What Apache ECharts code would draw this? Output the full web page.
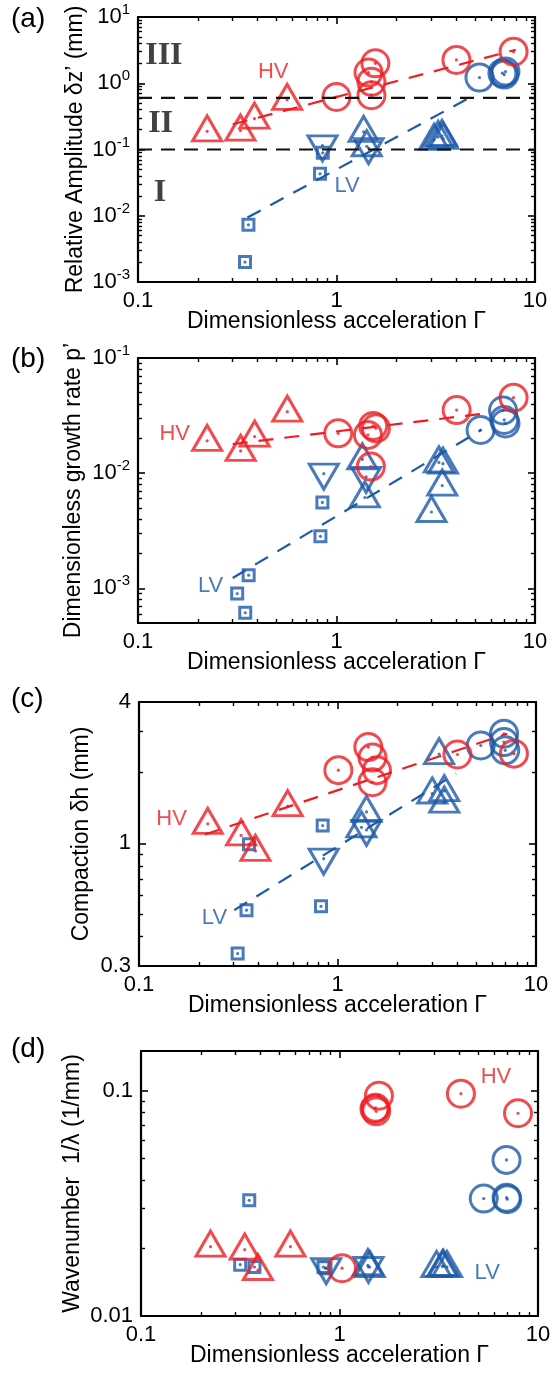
<!DOCTYPE html>
<html><head><meta charset="utf-8">
<script src="https://cdn.jsdelivr.net/npm/echarts@6/dist/echarts.min.js"></script>
<style>html,body{margin:0;padding:0;background:#fff}#c{width:552px;height:1380px}</style>
</head><body><div id="c"></div><script>
// ---------- shared axis data ----------
const xMin = 0.1, xMax = 10;
const xMajor = [0.1, 1, 10];
const xTickLabels = ['0.1', '1', '10'];
const xName = 'Dimensionless acceleration \u0393';

// ---------- panel (a) ----------
const aYMajor = [1e-3, 1e-2, 1e-1, 1, 10];
const aYExp = ['-3', '-2', '-1', '0', '1'];
const aHVtri = [[0.223, 0.188], [0.328, 0.193], [0.386, 0.292], [0.564, 0.562]];
const aHVcirc = [[1.0, 0.62], [1.57, 2.0], [1.45, 1.45], [1.5, 1.05], [1.5, 0.66], [4.02, 2.25], [7.8, 3.0]];
const aLVsq = [[0.36, 0.0073], [0.346, 0.002], [0.826, 0.043], [0.853, 0.089]];
const aLVdown = [[0.85, 0.115], [1.45, 0.105]];
const aLVup = [[1.37, 0.185], [1.42, 0.112], [3.1, 0.14], [3.25, 0.155], [3.4, 0.16], [3.45, 0.145]];
const aLVcirc = [[5.25, 1.22], [6.85, 1.42], [7.0, 1.35], [7.1, 1.5]];
const aHVfit = [[0.30, 0.24], [8.0, 3.2]];
const aLVfit = [[0.356, 0.0094], [4.8, 0.63]];
const aRegimeLines = [0.6, 0.1];
const aRegimeText = [['III', 0.135, 2.57], ['II', 0.13, 0.245], ['I', 0.129, 0.022]];
const aHVtext = [0.48, 1.5], aLVtext = [1.13, 0.028];

// ---------- panel (b) ----------
const bYMajor = [1e-3, 1e-2, 1e-1];
const bYExp = ['-3', '-2', '-1'];
const bHVtri = [[0.223, 0.0191], [0.329, 0.0156], [0.387, 0.0208], [0.565, 0.0342]];
const bHVcirc = [[1.02, 0.0222], [1.53, 0.0257], [1.58, 0.0245], [1.44, 0.0215], [1.49, 0.0114], [4.03, 0.0353], [7.8, 0.0452]];
const bLVsq = [[0.361, 0.0013], [0.316, 0.0009], [0.347, 0.000614], [0.849, 0.00557], [0.83, 0.00283]];
const bLVdown = [[0.863, 0.0099], [1.41, 0.0093]];
const bLVup = [[1.35, 0.0132], [1.39, 0.00615], [3.28, 0.0124], [3.44, 0.0121], [3.41, 0.0078], [3.01, 0.0046]];
const bLVcirc = [[5.32, 0.0237], [6.9, 0.035], [7.0, 0.029], [7.1, 0.027]];
const bHVfit = [[0.30, 0.0179], [6.0, 0.0335]];
const bLVfit = [[0.30, 0.00123], [5.36, 0.0237]];
const bHVtext = [0.153, 0.0219], bLVtext = [0.232, 0.00105];

// ---------- panel (c) ----------
const cYMajor = [0.3, 1, 4];
const cYLabels = ['0.3', '1', '4'];
const cHVtri = [[0.222, 1.21], [0.327, 1.08], [0.386, 0.928], [0.561, 1.44]];
const cHVcirc = [[1.01, 2.05], [1.43, 2.57], [1.5, 2.32], [1.58, 2.05], [1.5, 1.82], [4.02, 2.39], [7.74, 2.41]];
const cLVsq = [[0.348, 0.519], [0.314, 0.339], [0.842, 1.19], [0.826, 0.539], [0.358, 0.99]];
const cLVdown = [[0.852, 0.86], [1.4, 1.14]];
const cLVup = [[1.4, 1.36], [1.32, 1.17], [3.25, 2.4], [3.0, 1.63], [3.45, 1.67], [3.45, 1.49]];
const cLVcirc = [[5.27, 2.61], [6.9, 2.93], [6.9, 2.7], [7.0, 2.49]];
const cHVfit = [[0.215, 1.09], [7.16, 2.93]];
const cLVfit = [[0.302, 0.519], [3.96, 1.98]];
const cHVtext = [0.146, 1.27], cLVtext = [0.24, 0.483];

// ---------- panel (d) ----------
const dYMajor = [0.01, 0.1];
const dYLabels = ['0.01', '0.1'];
const dHVtri = [[0.224, 0.0203], [0.333, 0.0197], [0.388, 0.016], [0.566, 0.0203]];
const dHVcirc = [[1.03, 0.0163], [1.5, 0.083], [1.53, 0.081], [1.52, 0.084], [1.58, 0.095], [4.09, 0.097], [7.93, 0.0794]];
const dLVsq = [[0.351, 0.0326], [0.316, 0.0169], [0.373, 0.0165], [0.85, 0.0163], [0.83, 0.0165]];
const dLVdown = [[0.857, 0.0163], [1.4, 0.0165]];
const dLVup = [[1.39, 0.0168], [1.42, 0.0165], [3.08, 0.0165], [3.34, 0.0167], [3.48, 0.0165], [3.3, 0.0166]];
const dLVcirc = [[5.33, 0.0332], [6.94, 0.0493], [6.95, 0.0335], [7.0, 0.033]];
const dHVtext = [6.14, 0.115], dLVtext = [5.55, 0.0155];

// ---------- styling ----------
const RED = '#ee1d23', BLUE = '#1d59a8', INK = '#000';
const FONT = "'Liberation Sans', Arial, Helvetica, sans-serif";
const SERIF = "'Liberation Serif', 'Times New Roman', serif";
const TICK_FS = 22, NAME_FS = 23;

function minorTicks(lo, hi) {
  const out = [];
  for (let p = Math.floor(Math.log10(lo)) - 1; p <= Math.ceil(Math.log10(hi)); p++) {
    for (let k = 2; k <= 9; k++) {
      const v = k * Math.pow(10, p);
      if (v > lo * 1.0001 && v < hi * 0.9999) out.push(v);
    }
  }
  return out;
}
function idxOf(arr, v) {
  let best = 0, bd = Infinity;
  arr.forEach((a, i) => { const d = Math.abs(Math.log10(a) - Math.log10(v)); if (d < bd) { bd = d; best = i; } });
  return best;
}

const panels = [
  { grid: { left: 138, top: 17, width: 397, height: 265 }, yMin: 1e-3, yMax: 10, yMajor: aYMajor, yLab: aYExp, sup: true,
    yName: 'Relative Amplitude \u03b4z\u2019 (mm)', yNameGap: 51,
    hvTri: aHVtri, hvCirc: aHVcirc, lvSq: aLVsq, lvDown: aLVdown, lvUp: aLVup, lvCirc: aLVcirc,
    hvFit: aHVfit, lvFit: aLVfit, hvText: aHVtext, lvText: aLVtext, tag: '(a)', tagTop: 5 },
  { grid: { left: 138, top: 358, width: 397, height: 265 }, yMin: 5e-4, yMax: 0.1, yMajor: bYMajor, yLab: bYExp, sup: true,
    yName: 'Dimensionless growth rate p\u2019', yNameGap: 53,
    hvTri: bHVtri, hvCirc: bHVcirc, lvSq: bLVsq, lvDown: bLVdown, lvUp: bLVup, lvCirc: bLVcirc,
    hvFit: bHVfit, lvFit: bLVfit, hvText: bHVtext, lvText: bLVtext, tag: '(b)', tagTop: 345 },
  { grid: { left: 139, top: 702, width: 397, height: 264 }, yMin: 0.3, yMax: 4, yMajor: cYMajor, yLab: cYLabels, sup: false,
    yName: 'Compaction \u03b4h (mm)', yNameGap: 46,
    hvTri: cHVtri, hvCirc: cHVcirc, lvSq: cLVsq, lvDown: cLVdown, lvUp: cLVup, lvCirc: cLVcirc,
    hvFit: cHVfit, lvFit: cLVfit, hvText: cHVtext, lvText: cLVtext, tag: '(c)', tagTop: 685 },
  { grid: { left: 141, top: 1051, width: 397, height: 265 }, yMin: 0.01, yMax: 0.15, yMajor: dYMajor, yLab: dYLabels, sup: false,
    yName: 'Wavenumber  1/\u03bb (1/mm)', yNameGap: 57,
    hvTri: dHVtri, hvCirc: dHVcirc, lvSq: dLVsq, lvDown: dLVdown, lvUp: dLVup, lvCirc: dLVcirc,
    hvFit: null, lvFit: null, hvText: dHVtext, lvText: dLVtext, tag: '(d)', tagTop: 1035 }
];

const grids = [], xAxes = [], yAxes = [], series = [], graphics = [];
const lineStyleBox = { color: INK, width: 2.2 };

panels.forEach((p, gi) => {
  grids.push(Object.assign({ outerBoundsMode: 'none', containLabel: false }, p.grid));
  const xMinor = minorTicks(xMin, xMax), yMinor = minorTicks(p.yMin, p.yMax);
  const xCommon = { type: 'log', logBase: 10, min: xMin, max: xMax, gridIndex: gi, splitLine: { show: false }, silent: true };
  const yCommon = { type: 'log', logBase: 10, min: p.yMin, max: p.yMax, gridIndex: gi, splitLine: { show: false }, silent: true };
  const tickMaj = { show: true, inside: true, length: 7, lineStyle: { color: INK, width: 1.6 } };
  const tickMin = { show: true, inside: true, length: 4, lineStyle: { color: INK, width: 1.4 } };
  xAxes.push(Object.assign({}, xCommon, {
    position: 'bottom', axisLine: { show: true, onZero: false, lineStyle: lineStyleBox },
    axisTick: Object.assign({ customValues: xMajor }, tickMaj),
    axisLabel: { show: true, customValues: xMajor, margin: 8, fontSize: TICK_FS, fontFamily: FONT, color: INK,
      formatter: v => xTickLabels[idxOf(xMajor, v)] },
    name: xName, nameLocation: 'middle', nameGap: 28, nameMoveOverlap: false,
    nameTextStyle: { fontSize: NAME_FS, fontFamily: FONT, color: INK }
  }));
  xAxes.push(Object.assign({}, xCommon, { position: 'bottom', axisLine: { show: false },
    axisTick: Object.assign({ customValues: xMinor }, tickMin), axisLabel: { show: false } }));
  xAxes.push(Object.assign({}, xCommon, { position: 'top', axisLine: { show: true, onZero: false, lineStyle: lineStyleBox },
    axisTick: Object.assign({ customValues: xMajor }, tickMaj), axisLabel: { show: false } }));
  xAxes.push(Object.assign({}, xCommon, { position: 'top', axisLine: { show: false },
    axisTick: Object.assign({ customValues: xMinor }, tickMin), axisLabel: { show: false } }));

  const yFmt = p.sup
    ? (v => '{b|10}{s|' + p.yLab[idxOf(p.yMajor, v)] + '}')
    : (v => p.yLab[idxOf(p.yMajor, v)]);
  yAxes.push(Object.assign({}, yCommon, {
    position: 'left', axisLine: { show: true, onZero: false, lineStyle: lineStyleBox },
    axisTick: Object.assign({ customValues: p.yMajor }, tickMaj),
    axisLabel: { show: true, customValues: p.yMajor, margin: 8, fontSize: TICK_FS, fontFamily: FONT, color: INK,
      formatter: yFmt,
      rich: { b: { fontSize: TICK_FS, fontFamily: FONT, color: INK },
              s: { fontSize: 15, fontFamily: FONT, color: INK, padding: [0, 0, 14, 0] } } },
    name: p.yName, nameLocation: 'middle', nameGap: p.yNameGap, nameMoveOverlap: false,
    nameTextStyle: { fontSize: NAME_FS, fontFamily: FONT, color: INK }
  }));
  yAxes.push(Object.assign({}, yCommon, { position: 'left', axisLine: { show: false },
    axisTick: Object.assign({ customValues: yMinor }, tickMin), axisLabel: { show: false } }));
  yAxes.push(Object.assign({}, yCommon, { position: 'right', axisLine: { show: true, onZero: false, lineStyle: lineStyleBox },
    axisTick: Object.assign({ customValues: p.yMajor }, tickMaj), axisLabel: { show: false } }));
  yAxes.push(Object.assign({}, yCommon, { position: 'right', axisLine: { show: false },
    axisTick: Object.assign({ customValues: yMinor }, tickMin), axisLabel: { show: false } }));

  const xi = gi * 4, yi = gi * 4;
  const base = { type: 'scatter', xAxisIndex: xi, yAxisIndex: yi, silent: true, animation: false };
  const open = c => ({ color: 'rgba(255,255,255,0)', borderColor: c, borderWidth: 3 });
  function markers(data, kind, c, z) {
    let s;
    if (kind === 'circle') s = { symbol: 'circle', symbolSize: 27, itemStyle: open(c) };
    else if (kind === 'up') s = { symbol: 'triangle', symbolSize: [29, 25], symbolOffset: [0, -3], itemStyle: open(c) };
    else if (kind === 'down') s = { symbol: 'triangle', symbolRotate: 180, symbolSize: [29, 25], symbolOffset: [0, 3], itemStyle: open(c) };
    else s = { symbol: 'rect', symbolSize: 11, itemStyle: { color: '#fff', borderColor: c, borderWidth: 3 } };
    series.push(Object.assign({}, base, s, { data: data, z: z }));
    series.push(Object.assign({}, base, { data: data, symbol: 'circle', symbolSize: 3.2, itemStyle: { color: c }, z: z + 0.1 }));
  }
  markers(p.lvSq, 'square', BLUE, 2);
  markers(p.lvDown, 'down', BLUE, 2.2);
  markers(p.lvUp, 'up', BLUE, 2.3);
  markers(p.lvCirc, 'circle', BLUE, 2.4);
  markers(p.hvTri, 'up', RED, 3);
  markers(p.hvCirc, 'circle', RED, 3.2);

  const fitLine = (data, c) => ({ type: 'line', xAxisIndex: xi, yAxisIndex: yi, data: data, symbol: 'none', silent: true,
    animation: false, lineStyle: { color: c, width: 2.2, type: [15, 11] }, z: 4 });
  if (p.hvFit) series.push(fitLine(p.hvFit, RED));
  if (p.lvFit) series.push(fitLine(p.lvFit, BLUE));

  const textSeries = (pos, txt, c, fs, fam, fw) => ({ type: 'scatter', xAxisIndex: xi, yAxisIndex: yi, silent: true, animation: false,
    data: [pos], symbolSize: 1, itemStyle: { color: 'rgba(0,0,0,0)' }, z: 6,
    label: { show: true, position: 'inside', formatter: txt, color: c, fontSize: fs, fontFamily: fam, fontWeight: fw } });
  series.push(textSeries(p.hvText, 'HV', RED, 22, FONT, 'normal'));
  series.push(textSeries(p.lvText, 'LV', BLUE, 22, FONT, 'normal'));

  graphics.push({ type: 'text', left: 11, top: p.tagTop, style: { text: p.tag, fontSize: 28, fontFamily: FONT, fill: INK } });
});

aRegimeLines.forEach(v => {
  series.push({ type: 'line', xAxisIndex: 0, yAxisIndex: 0, data: [[xMin, v], [xMax, v]], symbol: 'none', silent: true,
    animation: false, lineStyle: { color: '#111', width: 2.2, type: [14, 9] }, z: 5 });
});
aRegimeText.forEach(t => {
  series.push({ type: 'scatter', xAxisIndex: 0, yAxisIndex: 0, silent: true, animation: false, data: [[t[1], t[2]]],
    symbolSize: 1, itemStyle: { color: 'rgba(0,0,0,0)' }, z: 6,
    label: { show: true, position: 'inside', formatter: t[0], color: '#111', fontSize: 32, fontFamily: SERIF, fontWeight: 'bold' } });
});

const chart = echarts.init(document.getElementById('c'), null, { renderer: 'canvas' });
chart.setOption({ animation: false, backgroundColor: '#fff', grid: grids, xAxis: xAxes, yAxis: yAxes, series: series, graphic: graphics });
</script></body></html>
